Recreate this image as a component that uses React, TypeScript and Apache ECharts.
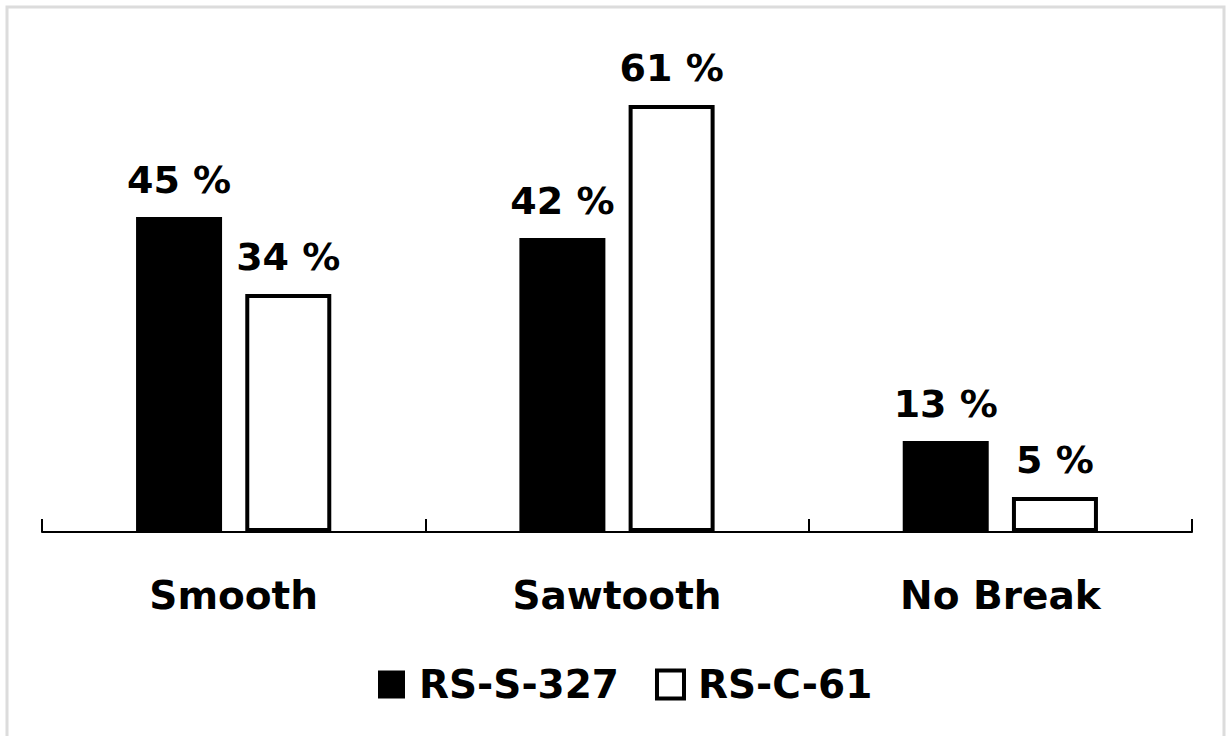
import React, { useEffect, useRef } from "react";
import * as echarts from "echarts";

const categories = ["Smooth", "Sawtooth", "No Break"];
const seriesNames = ["RS-S-327", "RS-C-61"];
const rsS327 = [45, 42, 13];
const rsC61 = [34, 61, 5];

const FONT = "'DejaVu Sans', sans-serif";

export default function App() {
  const ref = useRef<HTMLDivElement>(null);

  useEffect(() => {
    if (!ref.current) return;
    const chart = echarts.init(ref.current, null, { renderer: "svg" });

    const labelStyle = {
      show: true,
      position: "top" as const,
      distance: 18,
      formatter: "{c} %",
      color: "#000",
      fontFamily: FONT,
      fontWeight: "bold" as const,
      fontSize: 38,
    };

    chart.setOption({
      animation: false,
      backgroundColor: "#fff",
      graphic: [
        {
          type: "rect",
          shape: { x: 7, y: 7, width: 1217, height: 800 },
          style: { fill: "none", stroke: "#dcdcdc", lineWidth: 3 },
          silent: true,
        },
      ],
      grid: { left: 42, right: 38, top: 42, bottom: 204 },
      legend: {
        left: 373,
        top: 660,
        itemWidth: 27,
        itemHeight: 28,
        itemGap: 36,
        textStyle: {
          color: "#000",
          fontFamily: FONT,
          fontWeight: "bold",
          fontSize: 39,
          padding: [0, 0, 0, 9],
        },
        data: [
          { name: seriesNames[0], icon: "rect", itemStyle: { color: "#000", borderWidth: 0 } },
          { name: seriesNames[1], icon: "rect", itemStyle: { color: "#fff", borderColor: "#000", borderWidth: 4 } },
        ],
      },
      xAxis: {
        type: "category",
        data: categories,
        axisLine: { show: true, lineStyle: { color: "#000", width: 2 } },
        axisTick: {
          show: true,
          inside: true,
          length: 13,
          interval: 0,
          lineStyle: { color: "#000", width: 2 },
        },
        axisLabel: {
          margin: 44,
          color: "#000",
          fontFamily: FONT,
          fontWeight: "bold",
          fontSize: 39,
        },
      },
      yAxis: {
        type: "value",
        min: 0,
        max: 70,
        show: false,
        splitLine: { show: false },
      },
      series: [
        {
          name: seriesNames[0],
          type: "bar",
          data: rsS327,
          barWidth: 86,
          barGap: "27%",
          itemStyle: { color: "#000" },
          label: labelStyle,
        },
        {
          name: seriesNames[1],
          type: "bar",
          data: rsC61,
          barWidth: 86,
          itemStyle: { color: "#fff", borderColor: "#000", borderWidth: 4 },
          label: labelStyle,
        },
      ],
    });

    return () => chart.dispose();
  }, []);

  return (
    <div
      ref={ref}
      style={{ position: "fixed", left: 0, top: 0, width: 1230, height: 736 }}
    />
  );
}
